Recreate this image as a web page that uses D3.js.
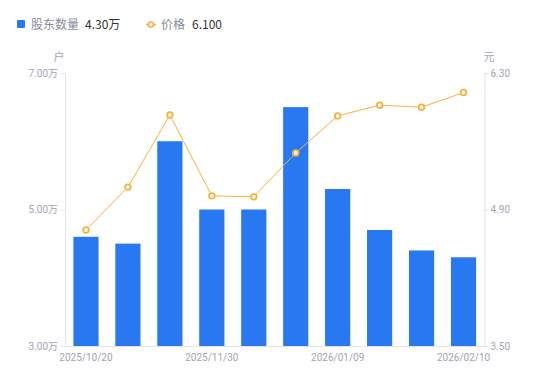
<!DOCTYPE html>
<html><head><meta charset="utf-8">
<script src="https://cdn.jsdelivr.net/npm/d3@7/dist/d3.min.js"></script>
<style>body{margin:0;background:#fff;} svg{display:block;font-family:"Noto Sans CJK SC","Noto Sans",sans-serif;}</style>
</head><body><svg id="c" width="550" height="381"></svg>
<script>
const categories = ["2025/10/20","2025/10/31","2025/11/10","2025/11/30","2025/12/10","2025/12/31","2026/01/09","2026/01/20","2026/01/31","2026/02/10"];
const holders = [4.60, 4.50, 6.00, 5.00, 5.00, 6.50, 5.30, 4.70, 4.40, 4.30];
const prices = [4.69, 5.13, 5.87, 5.04, 5.03, 5.48, 5.86, 5.97, 5.95, 6.10];
const leftTicks = [3.00, 5.00, 7.00];
const rightTicks = [3.50, 4.90, 6.30];
const shownLabels = ["2025/10/20","2025/11/30","2026/01/09","2026/02/10"];

const svg = d3.select("#c");
const L = 65, R = 484.5, T = 73, B = 346;
const blue = "#2878F2", orange = "#F7B23B", axisCol = "#E3E3E8", txtCol = "#A3A3B4";

const x = d3.scaleBand().domain(categories).range([L, R]).paddingInner(0.4).paddingOuter(0.2);
const yL = d3.scaleLinear().domain([3, 7]).range([B, T]);
const yR = d3.scaleLinear().domain([3.5, 6.3]).range([B, T]);

// bars
svg.append("g").selectAll("rect").data(holders).join("rect")
  .attr("x", (d,i)=>x(categories[i]))
  .attr("width", x.bandwidth())
  .attr("y", d=>yL(d))
  .attr("height", d=>B - yL(d))
  .attr("fill", blue);

// left axis
const gl = svg.append("g").attr("transform", `translate(${L},0)`)
  .call(d3.axisLeft(yL).tickValues(leftTicks).tickSize(5).tickPadding(2).tickFormat(d=>d3.format(".2f")(d)+"万"));
gl.select(".domain").attr("stroke", axisCol);
gl.selectAll(".tick line").attr("stroke", axisCol);
gl.selectAll(".tick text").attr("fill", txtCol).style("font-size","10px").style("font-family","Roboto,'Noto Sans CJK SC',sans-serif");

// right axis
const gr = svg.append("g").attr("transform", `translate(${R},0)`)
  .call(d3.axisRight(yR).tickValues(rightTicks).tickSize(4).tickPadding(2).tickFormat(d3.format(".2f")));
gr.select(".domain").attr("stroke", axisCol);
gr.selectAll(".tick line").attr("stroke", axisCol);
gr.selectAll(".tick text").attr("fill", txtCol).style("font-size","10px").style("font-family","Roboto,sans-serif");

// bottom axis
const gb = svg.append("g").attr("transform", `translate(0,${B})`)
  .call(d3.axisBottom(x).tickSize(0).tickPadding(8).tickFormat(d=>shownLabels.includes(d)?d:""));
gb.select(".domain").attr("stroke", axisCol).attr("d", `M${L},0.5H${R}`);
gb.selectAll(".tick text").attr("fill", txtCol).style("font-size","10px").style("font-family","Roboto,sans-serif");

// unit labels
svg.append("text").attr("x", 59).attr("y", 61).attr("text-anchor","middle").attr("fill", txtCol).style("font-size","11px").text("户");
svg.append("text").attr("x", 489).attr("y", 61).attr("text-anchor","middle").attr("fill", txtCol).style("font-size","11px").text("元");

// price line
const cx = (i)=>x(categories[i]) + x.bandwidth()/2;
svg.append("path").datum(prices)
  .attr("d", d3.line().x((d,i)=>cx(i)).y(d=>yR(d)))
  .attr("fill","none").attr("stroke", orange).attr("stroke-width", 1);
svg.append("g").selectAll("circle").data(prices).join("circle")
  .attr("cx",(d,i)=>cx(i)).attr("cy", d=>yR(d)).attr("r", 2.8)
  .attr("fill","#fff").attr("stroke", orange).attr("stroke-width", 1.8);

// legend
const lg = svg.append("g").style("font-size","12px");
lg.append("rect").attr("x",17).attr("y",20).attr("width",8).attr("height",8).attr("rx",1).attr("fill",blue);
lg.append("text").attr("x",31).attr("y",28.5).attr("fill","#8A8A99").text("股东数量");
lg.append("text").attr("x",85).attr("y",28.5).attr("fill","#333").text("4.30万");
lg.append("line").attr("x1",146).attr("x2",156).attr("y1",24.5).attr("y2",24.5).attr("stroke",orange).attr("stroke-width",1.5);
lg.append("circle").attr("cx",151).attr("cy",24.5).attr("r",2.5).attr("fill","#fff").attr("stroke",orange).attr("stroke-width",1.6);
lg.append("text").attr("x",161).attr("y",28.5).attr("fill","#8A8A99").text("价格");
lg.append("text").attr("x",192).attr("y",28.5).attr("fill","#333").text("6.100");
</script></body></html>
